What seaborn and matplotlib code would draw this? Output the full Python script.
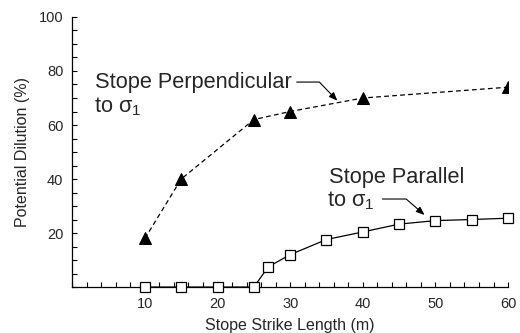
import matplotlib
matplotlib.use("Agg")
import matplotlib.pyplot as plt
import seaborn as sns
import pandas as pd

# Stope strike length (m) and potential dilution (%)
perp_length = [10, 15, 25, 30, 40, 60]
perp_dilution = [18, 40, 62, 65, 70, 74]

par_length = [10, 15, 20, 25, 27, 30, 35, 40, 45, 50, 55, 60]
par_dilution = [0, 0, 0, 0, 7.5, 12, 17.6, 20.4, 23.3, 24.6, 25, 25.5]

x_ticks = [10, 20, 30, 40, 50, 60]
y_ticks = [20, 40, 60, 80, 100]

sns.set_style("ticks")
plt.rcParams["font.family"] = ["Liberation Sans", "DejaVu Sans"]
plt.rcParams["mathtext.fontset"] = "custom"
plt.rcParams["mathtext.rm"] = "Liberation Sans"
plt.rcParams["mathtext.it"] = "Liberation Sans"
plt.rcParams["mathtext.bf"] = "Liberation Sans:bold"

perp = pd.DataFrame({"length": perp_length, "dilution": perp_dilution})
par = pd.DataFrame({"length": par_length, "dilution": par_dilution})

fig = plt.figure(figsize=(5.2, 3.33), dpi=100)
ax = fig.add_axes([0.139, 0.138, 0.838, 0.811])

sns.lineplot(data=perp, x="length", y="dilution", ax=ax, color="black",
             linewidth=0.9, linestyle=(0, (3.8, 2.6)), marker="^",
             markersize=9, markerfacecolor="black", markeredgecolor="black",
             zorder=3)
sns.lineplot(data=par, x="length", y="dilution", ax=ax, color="black",
             linewidth=0.9, marker="s", markersize=7.8,
             markerfacecolor="white", markeredgecolor="black",
             markeredgewidth=0.9, zorder=3, clip_on=False)

ax.set_xlim(0, 60)
ax.set_ylim(0, 100)
ax.set_xticks(x_ticks)
ax.set_yticks(y_ticks)
ax.set_xticks(range(0, 61, 2), minor=True)
ax.set_yticks(range(0, 101, 5), minor=True)
ax.tick_params(which="both", direction="in", length=3.5, width=0.8,
               color="black", labelsize=10.5)
ax.tick_params(axis="y", pad=6.5)
ax.tick_params(axis="x", pad=7)

sns.despine(ax=ax)
for side in ("left", "bottom"):
    ax.spines[side].set_linewidth(0.9)
    ax.spines[side].set_color("black")

ax.set_xlabel("Stope Strike Length (m)", fontsize=11.5, labelpad=5)
ax.set_ylabel("Potential Dilution (%)", fontsize=11.5, labelpad=6)

# Series annotations with bent leader arrows
label_size = 15.7
ax.text(3.1, 73.7, "Stope Perpendicular", fontsize=label_size, ha="left",
        va="baseline")
ax.text(3.0, 64.8, r"to $\sigma_1$", fontsize=label_size, ha="left",
        va="baseline")
ax.annotate("", xy=(36.5, 69.0), xytext=(30.9, 75.9),
            arrowprops=dict(arrowstyle="-|>,head_length=0.5,head_width=0.2",
                            color="black", lw=0.8, shrinkA=0, shrinkB=0,
                            connectionstyle="angle,angleA=0,angleB=134,rad=0"))

ax.text(35.3, 38.6, "Stope Parallel", fontsize=label_size, ha="left",
        va="baseline")
ax.text(35.1, 29.7, r"to $\sigma_1$", fontsize=label_size, ha="left",
        va="baseline")
ax.annotate("", xy=(48.5, 26.7), xytext=(42.7, 32.6),
            arrowprops=dict(arrowstyle="-|>,head_length=0.5,head_width=0.2",
                            color="black", lw=0.8, shrinkA=0, shrinkB=0,
                            connectionstyle="angle,angleA=0,angleB=139,rad=0"))

fig.savefig("out.png", dpi=100, facecolor="white")
